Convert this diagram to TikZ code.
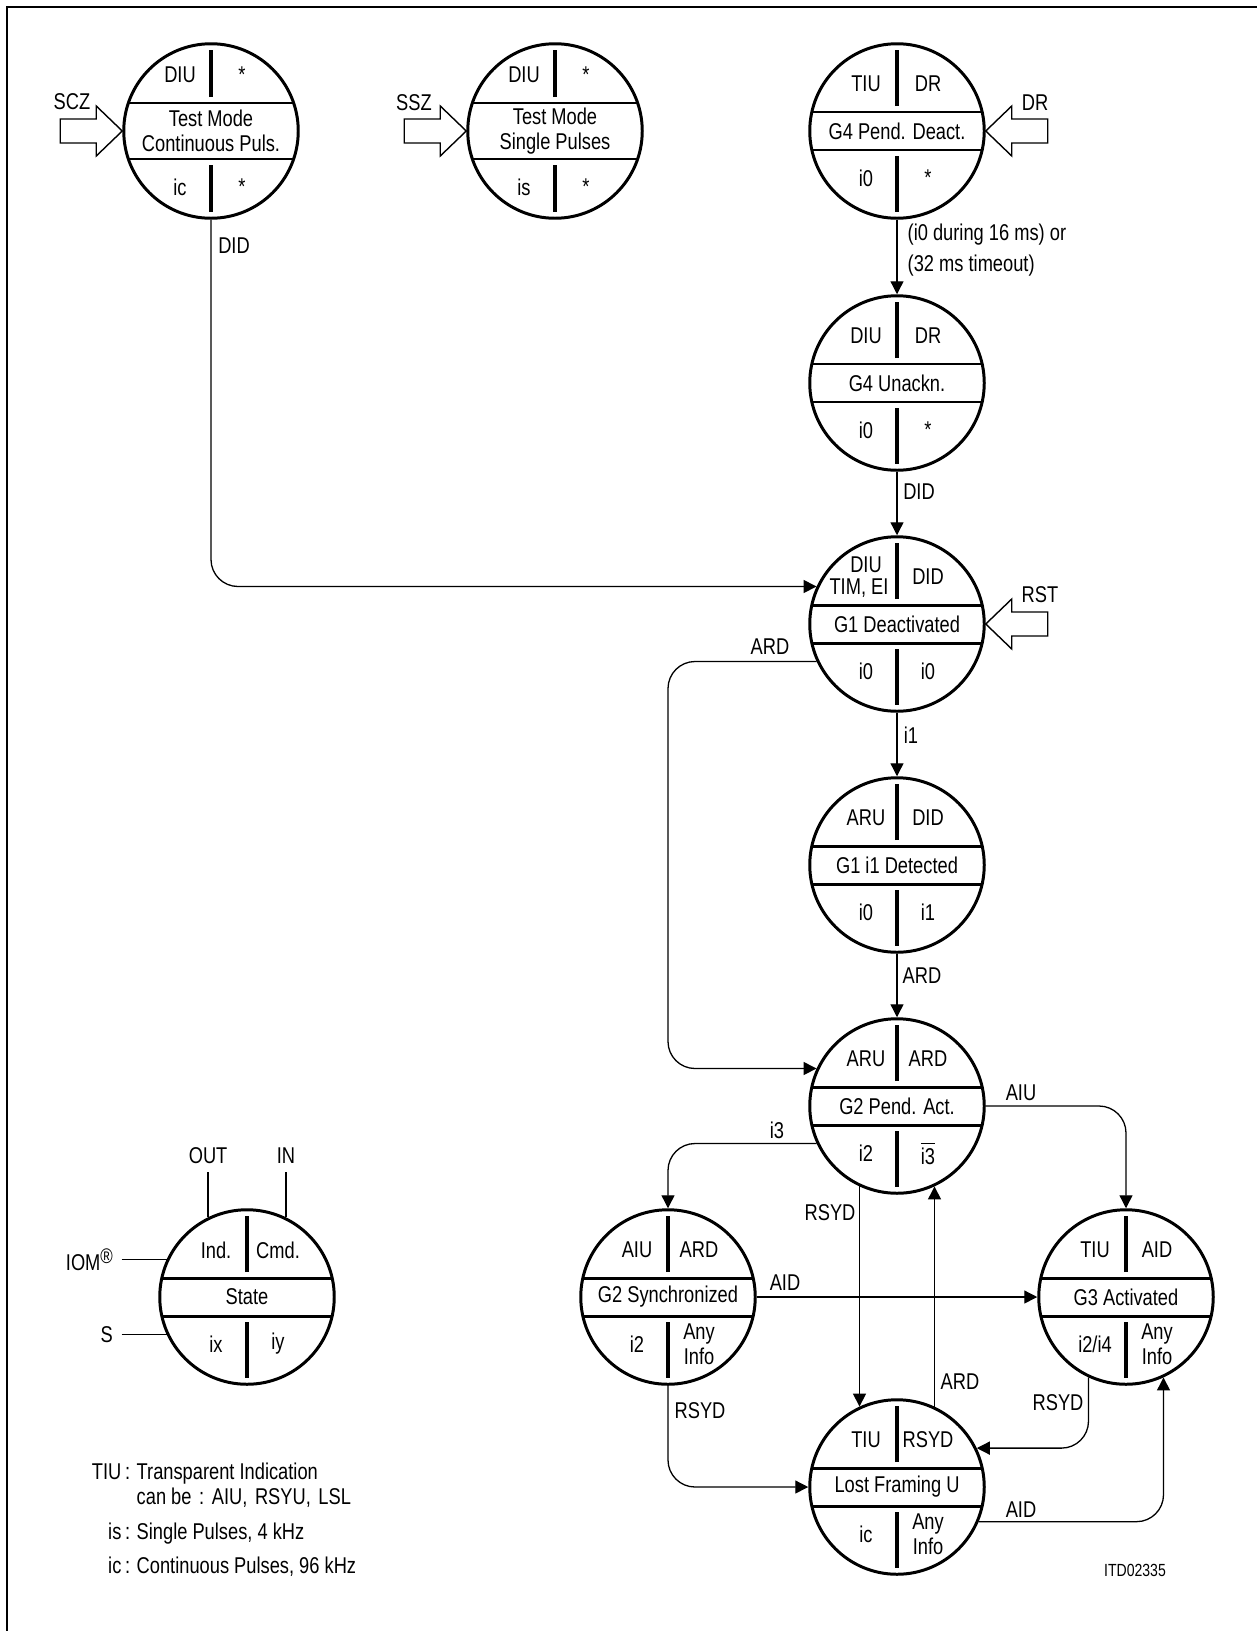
\documentclass[tikz,border=0pt]{standalone}
\usepackage{fontspec}
\setmainfont{Liberation Sans}[FakeStretch=0.8]
\usepackage{tikz}
\usetikzlibrary{positioning}
\usetikzlibrary{arrows.meta}
\usetikzlibrary{calc}

\newcommand{\statefont}{\fontsize{6.5pt}{7.1pt}\selectfont}
\newcommand{\staterad}{0.8725cm}
% #1 state, #2 half height of the band, #3 #4 upper texts, #5 #6 lower texts
\newcommand{\quadrants}[6]{%
  \begin{scope}
    \clip (#1.center) circle[radius=\staterad];
    \draw[bandline] ([yshift=#2]#1.west) -- ([yshift=#2]#1.east);
    \draw[bandline] ([yshift=-#2]#1.west) -- ([yshift=-#2]#1.east);
  \end{scope}
  \draw[divline] ([yshift=#2+0.06cm]#1.center) -- ([yshift=0.81cm]#1.center);
  \draw[divline] ([yshift=-#2-0.06cm]#1.center) -- ([yshift=-0.81cm]#1.center);
  \node[quadtext] (#1ul) at ([shift={(-0.31cm,#2+0.28cm)}]#1.center) {#3};
  \node[quadtext] (#1ur) at ([shift={(0.31cm,#2+0.28cm)}]#1.center) {#4};
  \node[quadtext] (#1ll) at ([shift={(-0.31cm,-#2-0.28cm)}]#1.center) {#5};
  \node[quadtext] (#1lr) at ([shift={(0.31cm,-#2-0.28cm)}]#1.center) {#6};
}

\begin{document}
\begin{tikzpicture}[
    node distance=2.41cm,
    statecircle/.style={circle, draw, on grid, line width=0.85pt, minimum size=1.745cm, inner sep=0pt, align=center, font=\statefont},
    bandline/.style={line width=0.85pt},
    divline/.style={line width=1pt},
    quadtext/.style={align=center, inner sep=0pt, font=\statefont},
    lbl/.style={font=\statefont, inner sep=0pt},
    conn/.style={line width=0.37pt},
    arrow/.style={-{Triangle[length=0.13cm, width=0.13cm]}, line width=0.37pt},
    hollow/.style={line width=0.4pt, fill=white},
    blockarrow/.pic={\draw[hollow] (0,0) -- (-0.26,0.25) -- (-0.26,0.12) -- (-0.62,0.12) -- (-0.62,-0.12) -- (-0.26,-0.12) -- (-0.26,-0.25) -- cycle;}
]
\useasboundingbox (0,0) rectangle (12.57,-16.31);

% Frame
\draw[line width=0.6pt] (0.07,-16.31) -- (0.07,-0.07) -- (12.57,-0.07);

% Top row
\node[statecircle] (g4pd) at (8.97,-1.31) {G4 Pend. Deact.};
\node[statecircle, left=3.42cm of g4pd] (tms) {Test Mode\\Single Pulses};
\node[statecircle, left=3.44cm of tms] (tmc) {Test Mode\\Continuous Puls.};

% Main column
\node[statecircle, below=2.52cm of g4pd] (g4un) {G4 Unackn.};
\node[statecircle, below=of g4un] (g1de) {G1 Deactivated};
\node[statecircle, below=of g1de] (g1i1) {G1 i1 Detected};
\node[statecircle, below=of g1i1] (g2pa) {G2 Pend. Act.};
\node[statecircle, below left=1.91cm and 2.29cm of g2pa] (g2sy) {G2 Synchronized};
\node[statecircle, below right=1.91cm and 2.29cm of g2pa] (g3ac) {G3 Activated};
\node[statecircle, below=3.81cm of g2pa] (lost) {Lost Framing U};

% Legend state
\node[statecircle] (legend) at (2.47,-12.97) {State};

% Quadrants
\quadrants{tmc}{0.28cm}{DIU}{*}{ic}{*}
\quadrants{tms}{0.28cm}{DIU}{*}{is}{*}
\quadrants{g4pd}{0.19cm}{TIU}{DR}{i0}{*}
\quadrants{g4un}{0.19cm}{DIU}{DR}{i0}{*}
\quadrants{g1de}{0.19cm}{DIU\\[-0.8pt]TIM, EI\rule{0.14cm}{0pt}}{DID}{i0}{i0}
\quadrants{g1i1}{0.19cm}{ARU}{DID}{i0}{i1}
\quadrants{g2pa}{0.19cm}{ARU}{ARD}{i2}{$\overline{\hbox{i3}}$}
\quadrants{g2sy}{0.19cm}{AIU}{ARD}{i2}{Any\\Info}
\quadrants{g3ac}{0.19cm}{TIU}{AID}{i2/i4}{Any\\Info}
\quadrants{lost}{0.19cm}{TIU}{RSYD}{ic}{Any\\Info}
\quadrants{legend}{0.19cm}{Ind.}{Cmd.}{ix}{iy}

% External commands
\pic at (tmc.west) {blockarrow};
\node[lbl] (sczlbl) at (0.72,-1.02) {SCZ};
\pic at (tms.west) {blockarrow};
\node[lbl] (sszlbl) at (4.14,-1.03) {SSZ};
\pic[rotate=180] at (g4pd.east) {blockarrow};
\node[lbl] (drlbl) at (10.35,-1.03) {DR};
\pic[rotate=180] at (g1de.east) {blockarrow};
\node[lbl] (rstlbl) at (10.40,-5.95) {RST};

% Main column arrows
\draw[arrow] (g4pd) -- (g4un);
\node[lbl, anchor=west, align=left] (timeoutlbl) at (9.07,-2.505) {(i0 during 16 ms) or\\[1.7pt](32 ms timeout)};
\draw[arrow] (g4un) -- (g1de);
\node[lbl] (didlbl) at (9.19,-4.92) {DID};
\draw[arrow] (g1de) -- (g1i1);
\node[lbl] (ionelbl) at (9.11,-7.35) {i1};
\draw[arrow] (g1i1) -- (g2pa);
\node[lbl] (ardlbl) at (9.22,-9.76) {ARD};

% Test mode exit
\draw[arrow, rounded corners=0.27cm] (tmc.south) |- (g1de.155);
\node[lbl] (didtestlbl) at (2.34,-2.46) {DID};

% Deactivated to pending activation
\draw[arrow, rounded corners=0.27cm] (g1de.205) -| (g2sy.north |- g2pa.155) -- (g2pa.155);
\node[lbl] (ardleftlbl) at (7.70,-6.47) {ARD};

% Activation branches
\draw[arrow, rounded corners=0.27cm] (g2pa.east) -| (g3ac.north);
\node[lbl] (aiulbl) at (10.21,-10.93) {AIU};
\draw[arrow, rounded corners=0.27cm] (g2pa.205) -| (g2sy.north);
\node[lbl] (ithreelbl) at (7.77,-11.30) {i3};
\draw[arrow] (g2pa.245) -- (lost.115);
\node[lbl] (rsydlbl) at (8.30,-12.13) {RSYD};
\draw[arrow] (lost.65) -- (g2pa.295);
\node[lbl] (ardlostlbl) at (9.60,-13.82) {ARD};
\draw[arrow] (g2sy.east) -- (g3ac.west);
\node[lbl] (aidlbl) at (7.85,-12.83) {AID};

% Lost framing
\draw[arrow, rounded corners=0.27cm] (g2sy.south) |- (lost.west);
\node[lbl] (rsydsylbl) at (7.00,-14.11) {RSYD};
\draw[arrow, rounded corners=0.27cm] (g3ac.245) |- (lost.26);
\node[lbl] (rsydaclbl) at (10.58,-14.03) {RSYD};
\draw[arrow, rounded corners=0.27cm] (lost.337) -| (g3ac.295);
\node[lbl] (aidlostlbl) at (10.21,-15.10) {AID};

% Legend connections
\node[lbl, inner sep=0.08cm, above=0.45cm of legend.116] (outlbl) {OUT};
\node[lbl, inner sep=0.08cm, above=0.45cm of legend.64] (inlbl) {IN};
\node[lbl, inner sep=0.08cm, left=0.45cm of legend.155] (iomlbl) {IOM\raisebox{0.32em}{\fontsize{6pt}{6pt}\selectfont\textregistered}};
\node[lbl, inner sep=0.08cm, left=0.45cm of legend.205] (slbl) {S};
\draw[conn] (outlbl) -- (legend.116);
\draw[conn] (inlbl) -- (legend.64);
\draw[conn] (iomlbl) -- (legend.155);
\draw[conn] (slbl) -- (legend.205);

% Key
\node[lbl, anchor=base east] (keytiu) at (1.31,-14.79) {TIU\,:};
\node[lbl, anchor=base west] (texttiu) at (1.36,-14.79) {Transparent Indication};
\node[lbl, anchor=base west] (textcan) at (1.36,-15.04) {can be\,\,:\,\,AIU,\,\,RSYU,\,\,LSL};
\node[lbl, anchor=base east] (keyis) at (1.31,-15.39) {is\,:};
\node[lbl, anchor=base west] (textis) at (1.36,-15.39) {Single Pulses, 4 kHz};
\node[lbl, anchor=base east] (keyic) at (1.31,-15.73) {ic\,:};
\node[lbl, anchor=base west] (textic) at (1.36,-15.73) {Continuous Pulses, 96 kHz};

\node[font=\fontsize{5pt}{6pt}\selectfont, inner sep=0pt] (itdlbl) at (11.35,-15.70) {ITD02335};

\end{tikzpicture}
\end{document}
